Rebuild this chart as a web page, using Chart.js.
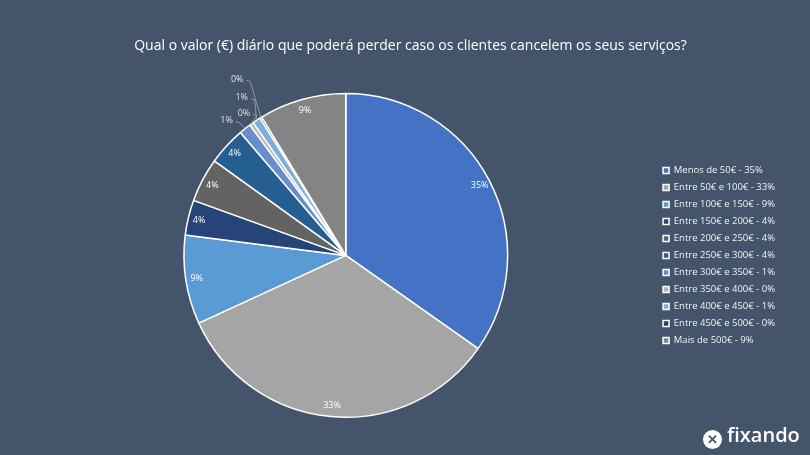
<html>
  <head>
    <script src="https://cdn.jsdelivr.net/npm/chart.js"></script>
    <style>
      body {
        margin: 0;
        background: #44546a;
      }
      #wrap {
        position: relative;
        width: 810px;
        height: 455px;
      }
      #logo {
        position: absolute;
        left: 703px;
        top: 422px;
        color: #ffffff;
        font-family: "Open Sans", sans-serif;
        font-size: 20px;
        font-weight: 600;
        line-height: 26px;
      }
      #logo .icon {
        display: inline-block;
        width: 19px;
        height: 19px;
        border-radius: 10px;
        background: #ffffff;
        color: #44546a;
        font-size: 13px;
        line-height: 19px;
        text-align: center;
        font-weight: bold;
        margin-right: 5px;
        vertical-align: -2px;
      }
    </style>
  </head>
  <body>
    <div id="wrap">
      <canvas id="pie_chart"></canvas>
      <div id="logo"><span class="icon">✕</span>fixando</div>
    </div>
    <script>
      // Answer categories
      const categories = [
        "Menos de 50€",
        "Entre 50€ e 100€",
        "Entre 100€ e 150€",
        "Entre 150€ e 200€",
        "Entre 200€ e 250€",
        "Entre 250€ e 300€",
        "Entre 300€ e 350€",
        "Entre 350€ e 400€",
        "Entre 400€ e 450€",
        "Entre 450€ e 500€",
        "Mais de 500€",
      ];
      // Share of answers (%)
      const values = [34.8, 33.4, 8.9, 3.5, 4.4, 3.8, 1.2, 0.4, 0.8, 0.2, 8.7];
      // Rounded labels as printed on the chart
      const pct_labels = ["35%", "33%", "9%", "4%", "4%", "4%", "1%", "0%", "1%", "0%", "9%"];
      const colors = [
        "#4472C4", "#A5A5A5", "#5B9BD5", "#264478", "#636363", "#255E91",
        "#698ED0", "#B7B7B7", "#7CAFDD", "#333F50", "#848484",
      ];

      const legend_texts = categories.map((c, i) => c + " - " + pct_labels[i]);

      // Percent labels on/around the slices
      const slice_labels = {
        id: "slice_labels",
        afterDatasetsDraw(chart, args, opts) {
          const ctx = chart.ctx;
          const meta = chart.getDatasetMeta(0);
          ctx.save();
          ctx.font = opts.font;
          ctx.textAlign = "center";
          ctx.textBaseline = "middle";
          meta.data.forEach((arc, i) => {
            const p = arc.getProps(["x", "y", "startAngle", "endAngle", "outerRadius"], true);
            const mid = (p.startAngle + p.endAngle) / 2;
            const out = opts.outside[i];
            if (out === undefined) {
              const r = p.outerRadius - opts.inset;
              ctx.fillStyle = opts.color;
              ctx.fillText(pct_labels[i], p.x + Math.cos(mid) * r, p.y + Math.sin(mid) * r);
            } else {
              // out = [extra radius, angle nudge in degrees]
              const r = p.outerRadius + out[0];
              const a = mid + (out[1] * Math.PI) / 180;
              const lx = p.x + Math.cos(a) * r;
              const ly = p.y + Math.sin(a) * r;
              const ex = p.x + Math.cos(mid) * p.outerRadius;
              const ey = p.y + Math.sin(mid) * p.outerRadius;
              ctx.strokeStyle = opts.lineColor;
              ctx.lineWidth = 0.8;
              ctx.beginPath();
              ctx.moveTo(lx + 9, ly + 1);
              ctx.lineTo(lx + 13, ly + 2);
              ctx.lineTo(ex, ey);
              ctx.stroke();
              ctx.fillStyle = opts.outColor;
              ctx.fillText(pct_labels[i], lx, ly);
            }
          });
          ctx.restore();
        },
      };

      const pie_chart = new Chart("pie_chart", {
        type: "pie",
        data: {
          labels: legend_texts,
          datasets: [
            {
              data: values,
              backgroundColor: colors,
              borderColor: "#FFFFFF",
              borderWidth: 1.5,
            },
          ],
        },
        plugins: [slice_labels],
        options: {
          responsive: true,
          maintainAspectRatio: false,
          animation: false,
          layout: {
            padding: { top: 30, bottom: 37, left: 36, right: 25 },
          },
          plugins: {
            title: {
              display: true,
              text: "Qual o valor (€) diário que poderá perder caso os clientes cancelem os seus serviços?",
              color: "#FFFFFF",
              font: { family: "Open Sans", size: 14, weight: "normal" },
              padding: { top: 8, bottom: 38 },
            },
            legend: {
              position: "right",
              fullSize: false,
              labels: {
                color: "#F2F2F2",
                font: { family: "Open Sans", size: 9.5 },
                boxWidth: 6,
                boxHeight: 6,
                padding: 7.5,
              },
            },
            tooltip: { enabled: false },
            slice_labels: {
              font: "9px 'Open Sans'",
              color: "#FFFFFF",
              outColor: "#E0E0E0",
              lineColor: "#A6A6A6",
              inset: 11,
              outside: { 6: [18, -3], 7: [13, 0], 8: [27, 0], 9: [45, 0] },
            },
          },
        },
      });
    </script>
  </body>
</html>
